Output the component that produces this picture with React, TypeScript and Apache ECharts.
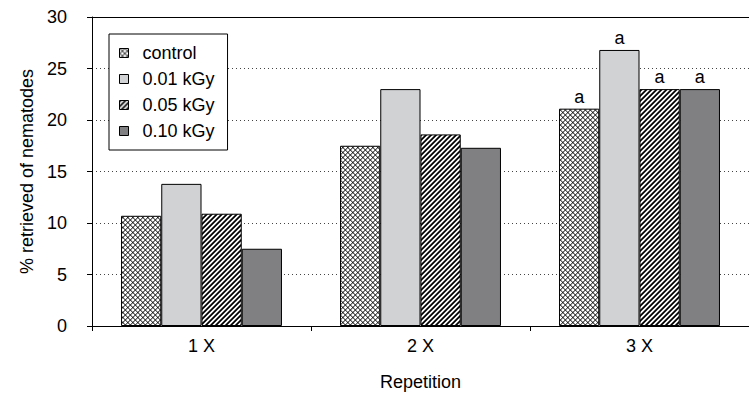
import React, { useEffect, useRef } from "react";
import * as echarts from "echarts";

const categories = ["1 X", "2 X", "3 X"];
const seriesNames = ["control", "0.01 kGy", "0.05 kGy", "0.10 kGy"];
const controlValues = [10.7, 17.5, 21.1];
const dose001Values = [13.8, 23.0, 26.8];
const dose005Values = [10.9, 18.6, 23.0];
const dose010Values = [7.5, 17.3, 23.0];
const controlLetters = ["", "", "a"];
const dose001Letters = ["", "", "a"];
const dose005Letters = ["", "", "a"];
const dose010Letters = ["", "", "a"];
const yMin = 0;
const yMax = 30;
const yInterval = 5;
const xAxisName = "Repetition";
const yAxisName = "% retrieved of nematodes";

const FONT = "'Liberation Sans', Arial, sans-serif";

function makePattern(p: number, test: (x: number, y: number) => boolean) {
  const c = document.createElement("canvas");
  c.width = p;
  c.height = p;
  const ctx = c.getContext("2d")!;
  const img = ctx.createImageData(p, p);
  const ss = 4;
  for (let y = 0; y < p; y++) {
    for (let x = 0; x < p; x++) {
      let cov = 0;
      for (let i = 0; i < ss; i++) {
        for (let j = 0; j < ss; j++) {
          const sx = x + (i + 0.5) / ss;
          const sy = y + (j + 0.5) / ss;
          if (test(sx, sy)) cov++;
        }
      }
      const f = cov / (ss * ss);
      const g = Math.round(255 * (1 - f));
      const k = (y * p + x) * 4;
      img.data[k] = g;
      img.data[k + 1] = g;
      img.data[k + 2] = g;
      img.data[k + 3] = 255;
    }
  }
  ctx.putImageData(img, 0, 0);
  return c;
}

export default function App() {
  const ref = useRef<HTMLDivElement>(null);
  useEffect(() => {
    if (!ref.current) return;
    const chart = echarts.init(ref.current, undefined, { renderer: "svg" });
    const P = 5;
    const mod = (a: number, m: number) => ((a % m) + m) % m;
    const cross = makePattern(P, (x, y) => mod(x + y, P) < 1.0 || mod(x - y, P) < 1.0);
    const stripes = makePattern(P, (x, y) => mod(x + y, P) < 2.4);
    const fills: any[] = [
      { image: cross, repeat: "repeat" },
      "#d1d2d4",
      { image: stripes, repeat: "repeat" },
      "#808083",
    ];
    const values = [controlValues, dose001Values, dose005Values, dose010Values];
    const letters = [controlLetters, dose001Letters, dose005Letters, dose010Letters];
    const series = seriesNames.map((name, si) => ({
      name,
      type: "bar",
      barGap: "0%",
      barCategoryGap: "26.5%",
      itemStyle: { color: fills[si], borderColor: "#000", borderWidth: 1 },
      data: values[si].map((v, i) => ({
        value: v,
        label: {
          show: letters[si][i] !== "",
          position: "top",
          distance: 3,
          formatter: letters[si][i],
          color: "#000",
          fontSize: 18,
          fontFamily: FONT,
        },
      })),
    }));
    chart.setOption({
      animation: false,
      backgroundColor: "#fff",
      textStyle: { fontFamily: FONT },
      grid: { left: 92, top: 17, width: 666, height: 311, containLabel: false },
      legend: {
        orient: "vertical",
        left: 109,
        top: 34,
        data: seriesNames,
        icon: "rect",
        itemWidth: 9,
        itemHeight: 9,
        itemGap: 8,
        padding: [10, 13, 10, 10],
        backgroundColor: "#fff",
        borderColor: "#000",
        borderWidth: 1,
        itemStyle: { borderColor: "#000", borderWidth: 1 },
        textStyle: { fontSize: 18, color: "#000", fontFamily: FONT, padding: [0, 0, 0, 9] },
      },
      xAxis: [
        {
          type: "category",
          data: categories,
          name: xAxisName,
          nameLocation: "middle",
          nameGap: 47,
          nameTextStyle: { fontSize: 18, color: "#000", fontFamily: FONT },
          axisLine: { lineStyle: { color: "#000", width: 1 } },
          axisTick: { show: true, length: 5, lineStyle: { color: "#000" } },
          axisLabel: { fontSize: 18, color: "#000", margin: 11, fontFamily: FONT },
        },
        {
          type: "category",
          data: categories,
          position: "top",
          axisLine: { show: true, lineStyle: { color: "#000", width: 1 } },
          axisTick: { show: false },
          axisLabel: { show: false },
        },
      ],
      yAxis: {
        type: "value",
        min: yMin,
        max: yMax,
        interval: yInterval,
        name: yAxisName,
        nameLocation: "middle",
        nameGap: 48,
        nameTextStyle: { fontSize: 18, color: "#000", fontFamily: FONT },
        axisLine: { show: true, lineStyle: { color: "#000", width: 1 } },
        axisTick: { show: true, length: 5, lineStyle: { color: "#000" } },
        axisLabel: { fontSize: 18, color: "#000", margin: 25, fontFamily: FONT },
        splitLine: { show: true, lineStyle: { color: "#444", width: 1, type: [1, 3] } },
      },
      series,
    });
    return () => chart.dispose();
  }, []);
  return (
    <div
      ref={ref}
      style={{ position: "fixed", left: 0, top: 0, width: 749, height: 396, background: "#fff" }}
    />
  );
}
